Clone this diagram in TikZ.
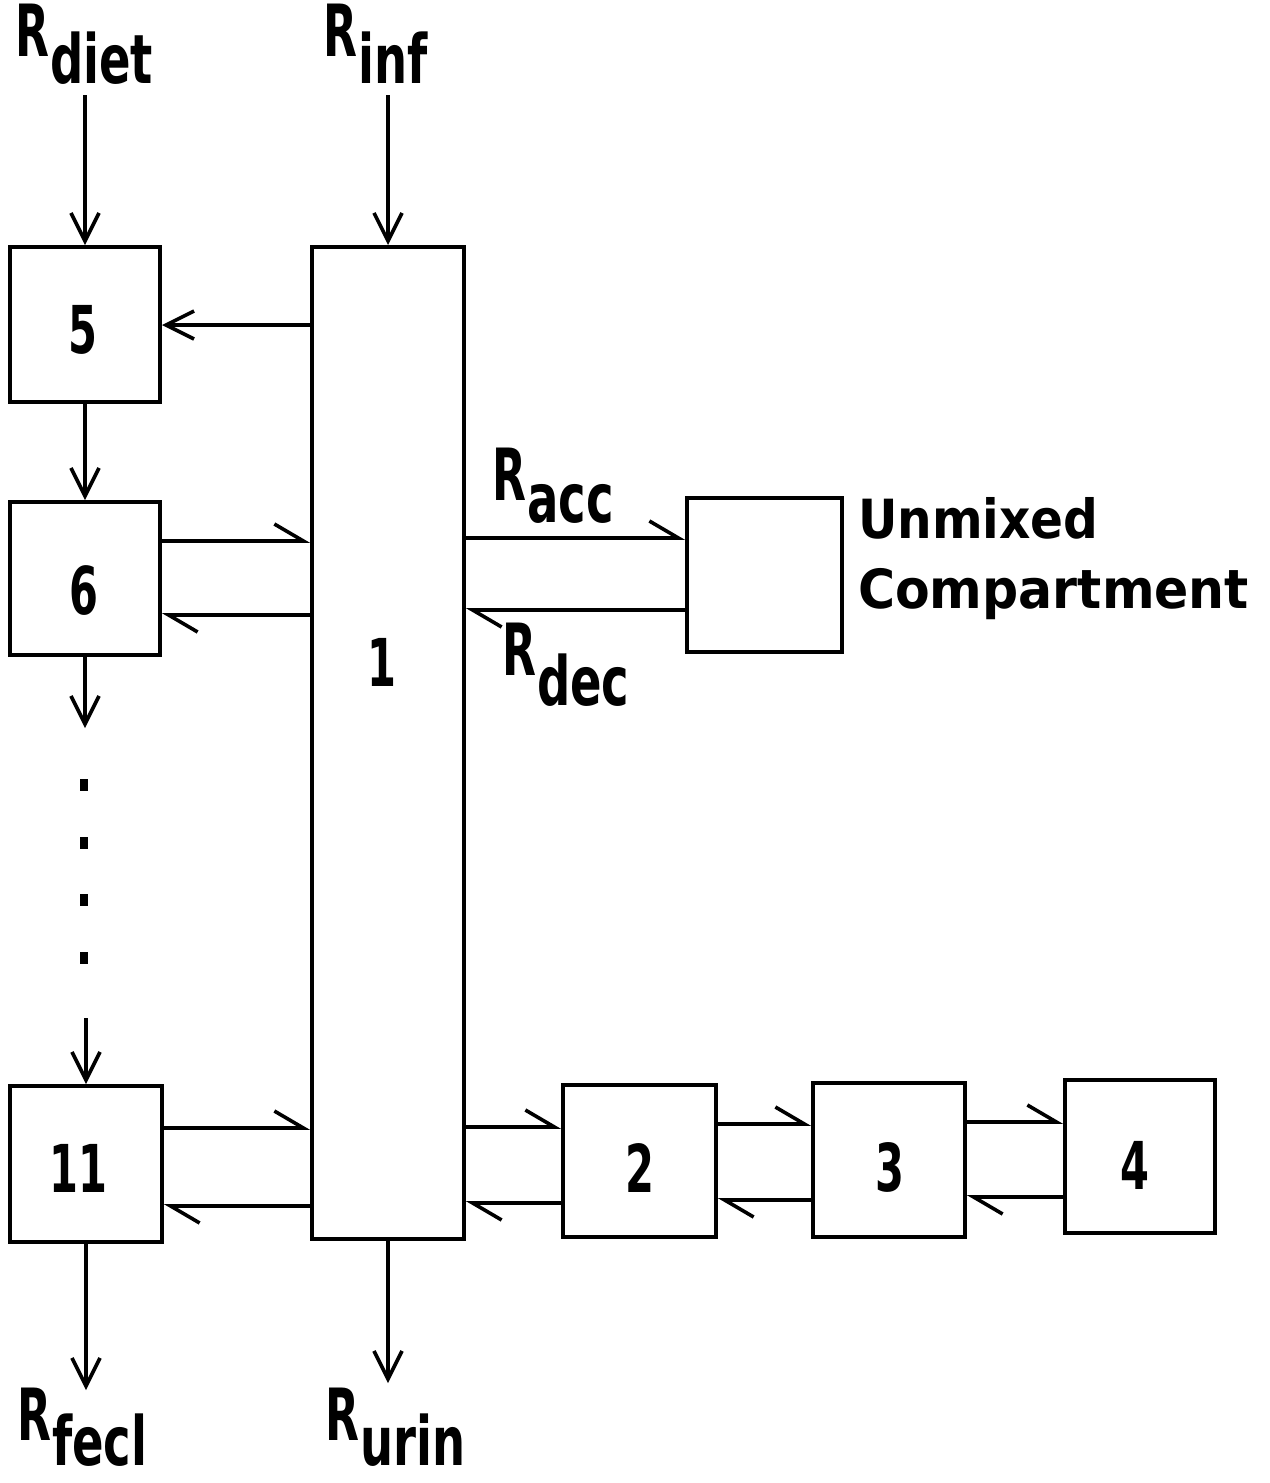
\documentclass[tikz,border=0pt]{standalone}
\usepackage{fontspec}
\usetikzlibrary{arrows.meta,calc}
\newfontfamily\dvc{DejaVu Sans Condensed}
\newcommand\Rlab[2]{{\fontsize{72}{74}\selectfont\scalebox{0.68}[1]{R}}\kern1pt\raisebox{-#2pt}{\fontsize{68}{70}\selectfont\scalebox{0.76}[1]{#1}}}
\newcommand\Num[1]{{\fontsize{66}{68}\selectfont\scalebox{0.7}[1]{#1}}}
\begin{document}
\begin{tikzpicture}[x=1pt,y=-1pt,
  font=\dvc\bfseries,
  box/.style={draw, line width=4pt, inner sep=0pt, fill=white},
  lab/.style={inner sep=0pt, anchor=base west},
  num/.style={inner sep=0pt},
  va/.style={line width=3.6pt, -{Straight Barb[length=28pt,width=28pt]}},
  hp/.style={line width=3.6pt, -{Straight Barb[harpoon,length=29pt,width=34pt]}}
]
\useasboundingbox[fill=white] (0,0) rectangle (1269,1483);

% boxes
\node[box, minimum width=150pt, minimum height=155pt] (b5)  at (85,324.5) {};
\node[box, minimum width=150pt, minimum height=153pt] (b6)  at (85,578.5) {};
\node[box, minimum width=152pt, minimum height=156pt] (b11) at (86,1164) {};
\node[box, minimum width=152pt, minimum height=992pt] (b1)  at (388,743) {};
\node[box, minimum width=155pt, minimum height=154pt] (um)  at (764.5,575) {};
\node[box, minimum width=153pt, minimum height=152pt] (b2)  at (639.5,1161) {};
\node[box, minimum width=152pt, minimum height=154pt] (b3)  at (889,1160) {};
\node[box, minimum width=150pt, minimum height=153pt] (b4)  at (1140,1156.5) {};

% numbers
\node[num] (n5)  at (83,330)   {\Num{5}};
\node[num] (n6)  at (84,590)   {\Num{6}};
\node[num] (n11) at (78,1168)  {\Num{11}};
\node[num] (n1)  at (382,662)  {\Num{1}};
\node[num] (n2)  at (640,1168) {\Num{2}};
\node[num] (n3)  at (890,1167) {\Num{3}};
\node[num] (n4)  at (1135,1165) {\Num{4}};

% labels
\node[lab] (ldiet) at (15,56)    {\Rlab{diet}{27}};
\node[lab] (linf)  at (323,56)   {\Rlab{inf}{27}};
\node[lab] (lacc)  at (492,500)  {\Rlab{acc}{22}};
\node[lab] (ldec)  at (502,675)  {\Rlab{dec}{30}};
\node[lab] (lfecl) at (17,1440)  {\Rlab{fecl}{25}};
\node[lab] (lurin) at (325,1440) {\Rlab{urin}{25}};
\node[lab] (ut1) at (858,538) {\fontsize{54}{56}\selectfont Unmixed};
\node[lab] (ut2) at (858,608) {\fontsize{54}{56}\selectfont\scalebox{1.04}[1]{Compartment}};

% free ends
\coordinate (din) at (85,95);
\coordinate (iin) at (388,95);
\coordinate (d6) at (85,728);
\coordinate (d11) at (86,1018);
\coordinate (fout) at (86,1390);
\coordinate (uout) at (388,1383);

% vertical arrows
\draw[va] (din) -- (b5.north);
\draw[va] (iin) -- (b1.north);
\draw[va] (b5.south) -- (b6.north);
\draw[va] (b6.south) -- (d6);
\draw[va] (d11) -- (b11.north);
\draw[va] (b11.south) -- (fout);
\draw[va] (b1.south) -- (uout);

% dots
\foreach \yy in {785,843,900,958} \fill (80,\yy-6) rectangle (88,\yy+6);

% horizontal arrows
\draw[va] (b1.west |- 0,325) -- (b5.east |- 0,325);
\draw[hp] (b6.east |- 0,541) -- (b1.west |- 0,541);
\draw[hp] (b1.west |- 0,615) -- (b6.east |- 0,615);
\draw[hp] (b11.east |- 0,1128) -- (b1.west |- 0,1128);
\draw[hp] (b1.west |- 0,1206) -- (b11.east |- 0,1206);
\draw[hp] (b1.east |- 0,538) -- (um.west |- 0,538);
\draw[hp] (um.west |- 0,610) -- (b1.east |- 0,610);
\draw[hp] (b1.east |- 0,1127) -- (b2.west |- 0,1127);
\draw[hp] (b2.west |- 0,1203) -- (b1.east |- 0,1203);
\draw[hp] (b2.east |- 0,1124) -- (b3.west |- 0,1124);
\draw[hp] (b3.west |- 0,1200) -- (b2.east |- 0,1200);
\draw[hp] (b3.east |- 0,1122) -- (b4.west |- 0,1122);
\draw[hp] (b4.west |- 0,1197) -- (b3.east |- 0,1197);
\end{tikzpicture}
\end{document}
